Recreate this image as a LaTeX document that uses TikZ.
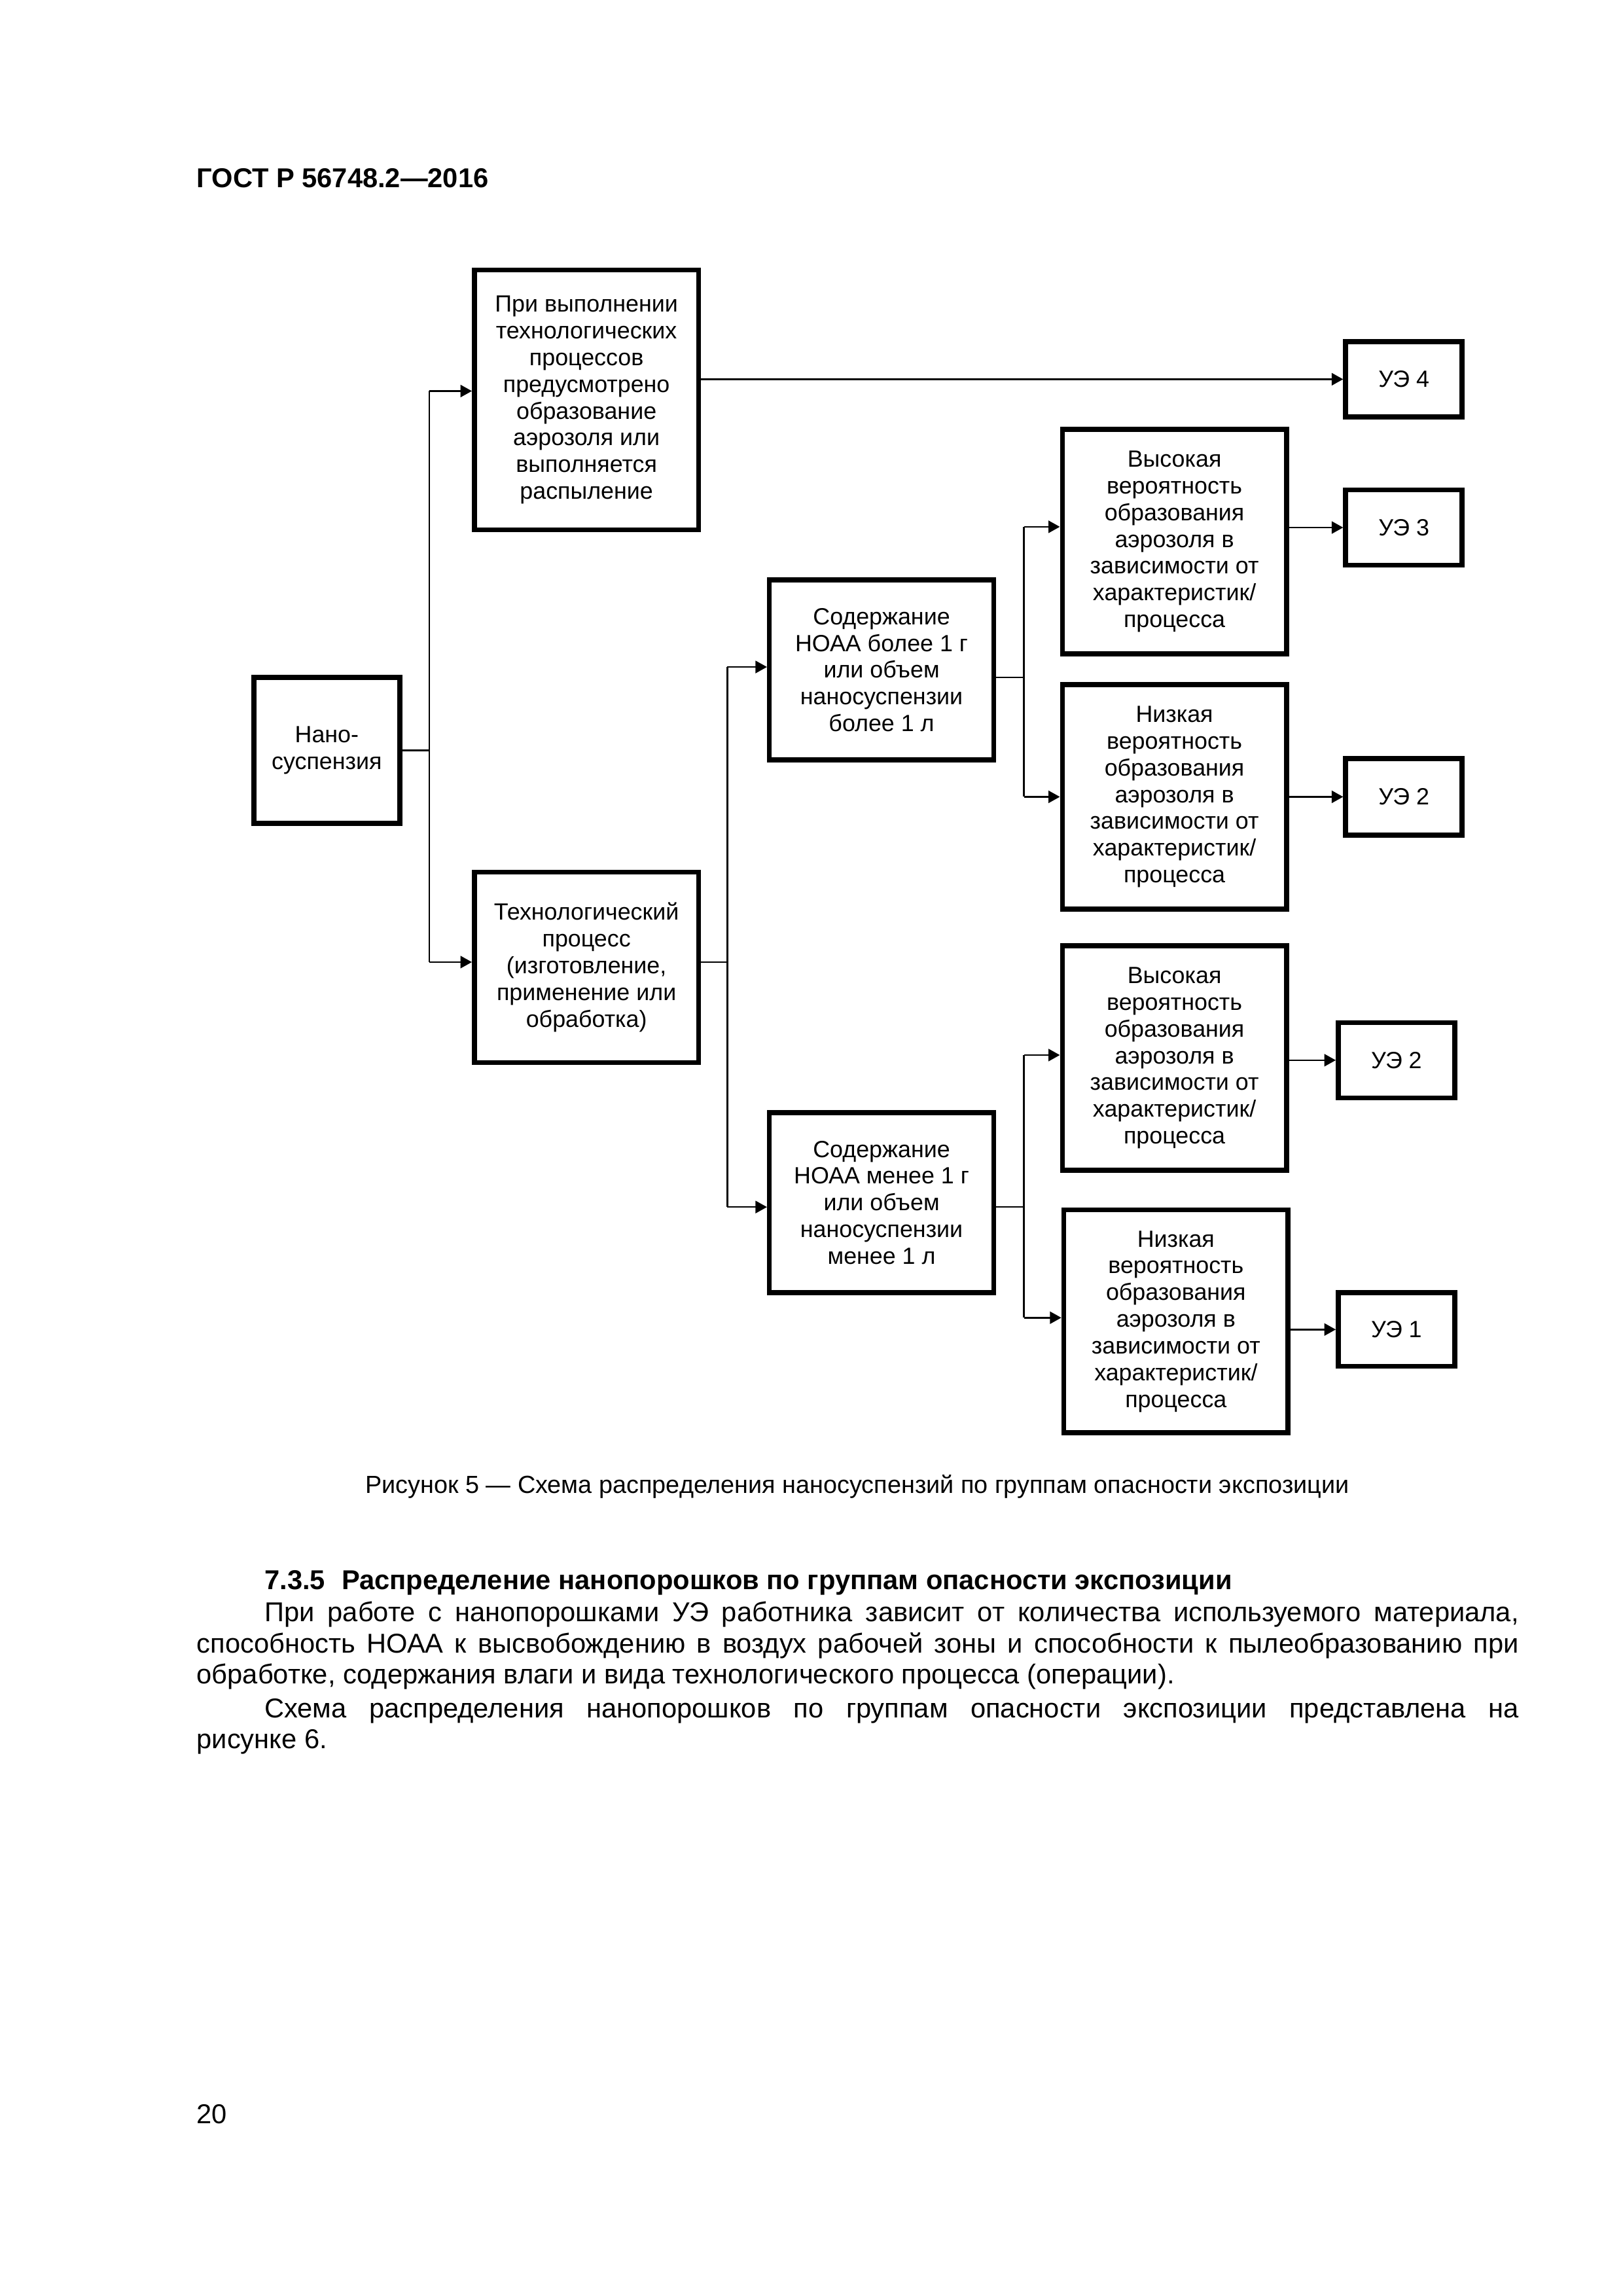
\documentclass[tikz,border=0pt]{standalone}
\usepackage{fontspec}
\setmainfont{Liberation Sans}
\usetikzlibrary{arrows.meta}
\newcommand\boxfont{\fontsize{8.6}{9.8}\selectfont}
\newcommand\bodyfont{\fontsize{10}{11.6}\selectfont}
\begin{document}
\begin{tikzpicture}[x=0.54118pt,y=-0.54118pt,
  box/.style={draw, line width=1.8pt, align=center, inner sep=0pt, font=\boxfont},
  bx/.style 2 args={minimum width=#1*0.54118pt, minimum height=#2*0.54118pt},
  conn/.style={line width=0.6pt},
  arr/.style={line width=0.6pt, -{Triangle[length=4.2pt,width=4.5pt]}},
  txt/.style={inner sep=0pt, anchor=base west}]
\fill[white] (0,0) rectangle (1100,1556);
\useasboundingbox (0,0) rectangle (1100,1556);

% header
\node[txt, font=\fontsize{10}{12}\selectfont\bfseries] (hdr) at (133,127) {ГОСТ Р 56748.2—2016};

% boxes
\node[box, bx={99}{99}] (nano) at (221.5,508.5) {Нано-\\суспензия};
\node[box, bx={152}{176}] (A) at (397.5,271) {При выполнении\\технологических\\процессов\\предусмотрено\\образование\\аэрозоля или\\выполняется\\распыление};
\node[box, bx={152}{129}] (B) at (397.5,655.5) {Технологический\\процесс\\(изготовление,\\применение или\\обработка)};
\node[box, bx={152}{122}] (C) at (597.5,454) {Содержание\\НОАА более 1 г\\или объем\\наносуспензии\\более 1 л};
\node[box, bx={152}{122}] (D) at (597.5,815) {Содержание\\НОАА менее 1 г\\или объем\\наносуспензии\\менее 1 л};
\node[box, bx={152}{152}] (E) at (796,367) {Высокая\\вероятность\\образования\\аэрозоля в\\зависимости от\\характеристик/\\процесса};
\node[box, bx={152}{152}] (F) at (796,540) {Низкая\\вероятность\\образования\\аэрозоля в\\зависимости от\\характеристик/\\процесса};
\node[box, bx={152}{152}] (G) at (796,717) {Высокая\\вероятность\\образования\\аэрозоля в\\зависимости от\\характеристик/\\процесса};
\node[box, bx={152}{151}] (H) at (797,895.5) {Низкая\\вероятность\\образования\\аэрозоля в\\зависимости от\\характеристик/\\процесса};
\node[box, bx={79}{51}] (ue4) at (951.5,257) {УЭ 4};
\node[box, bx={79}{51}] (ue3) at (951.5,357.5) {УЭ 3};
\node[box, bx={79}{52}] (ue2a) at (951.5,540) {УЭ 2};
\node[box, bx={79}{51}] (ue2b) at (946.5,718.5) {УЭ 2};
\node[box, bx={79}{50}] (ue1) at (946.5,901) {УЭ 1};

% junctions
\coordinate (j0) at (291,508.5);
\coordinate (jA) at (291,265);
\coordinate (jB) at (291,652);
\coordinate (k0) at (493,652);
\coordinate (kC) at (493,452);
\coordinate (kD) at (493,818);
\coordinate (m0) at (694,459);
\coordinate (mE) at (694,357);
\coordinate (mF) at (694,540);
\coordinate (n0) at (694,818);
\coordinate (nG) at (694,715);
\coordinate (nH) at (694,893);

% connectors
\draw[conn] (nano.east |- j0) -- (j0);
\draw[conn] (jA) -- (jB);
\draw[arr] (jA) -- (A.west |- jA);
\draw[arr] (jB) -- (B.west |- jB);
\draw[arr] (A.east |- ue4) -- (ue4.west);

\draw[conn] (B.east |- k0) -- (k0);
\draw[conn] (kC) -- (kD);
\draw[arr] (kC) -- (C.west |- kC);
\draw[arr] (kD) -- (D.west |- kD);

\draw[conn] (C.east |- m0) -- (m0);
\draw[conn] (mE) -- (mF);
\draw[arr] (mE) -- (E.west |- mE);
\draw[arr] (mF) -- (F.west |- mF);
\draw[arr] (E.east |- ue3) -- (ue3.west);
\draw[arr] (F.east |- ue2a) -- (ue2a.west);

\draw[conn] (D.east |- n0) -- (n0);
\draw[conn] (nG) -- (nH);
\draw[arr] (nG) -- (G.west |- nG);
\draw[arr] (nH) -- (H.west |- nH);
\draw[arr] (G.east |- ue2b) -- (ue2b.west);
\draw[arr] (H.east |- ue1) -- (ue1.west);

% caption
\node[inner sep=0pt, anchor=base, font=\fontsize{9.07}{10.5}\selectfont] (cap) at (581,1012) {Рисунок 5 — Схема распределения наносуспензий по группам опасности экспозиции};

% section text
\node[txt, font=\bodyfont\bfseries] (sec) at (179,1077) {7.3.5\hspace{0.6em}Распределение нанопорошков по группам опасности экспозиции};
\node[txt, font=\bodyfont] (l1) at (179,1099) {\makebox[460pt][s]{При работе с нанопорошками УЭ работника зависит от количества используемого материала,}};
\node[txt, font=\bodyfont] (l2) at (133,1120) {\makebox[484.9pt][s]{способность НОАА к высвобождению в воздух рабочей зоны и способности к пылеобразованию при}};
\node[txt, font=\bodyfont] (l3) at (133,1141) {обработке, содержания влаги и вида технологического процесса (операции).};
\node[txt, font=\bodyfont] (l4) at (179,1164) {\makebox[460pt][s]{Схема распределения нанопорошков по группам опасности экспозиции представлена на}};
\node[txt, font=\bodyfont] (l5) at (133,1185) {рисунке 6.};

\node[txt, font=\bodyfont] (pg) at (133,1439) {20};
\end{tikzpicture}
\end{document}
